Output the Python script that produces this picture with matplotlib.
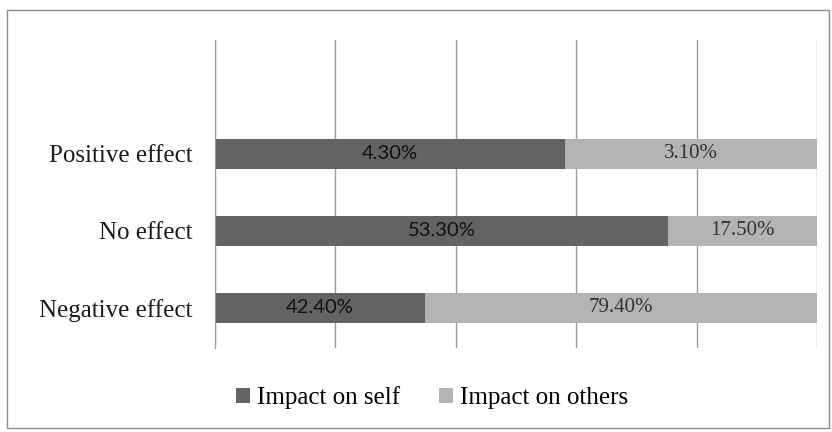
import matplotlib.pyplot as plt
import numpy as np

categories = ['Negative effect', 'No effect', 'Positive effect']
self_vals = [42.4, 53.3, 4.3]
others_vals = [79.4, 17.5, 3.1]
series_names = ['Impact on self', 'Impact on others']

c_self = '#636363'
c_others = '#b3b3b3'
serif = ['Liberation Serif', 'DejaVu Serif']
sans = ['Lato', 'DejaVu Sans']

self_a = np.array(self_vals)
others_a = np.array(others_vals)
tot = self_a + others_a
self_p = self_a / tot * 100
others_p = others_a / tot * 100
y = np.arange(len(categories))

fig = plt.figure(figsize=(8.32, 4.32), dpi=100)
ax = fig.add_axes([215 / 832, 84 / 432, 602 / 832, 308 / 432])

b1 = ax.barh(y, self_p, height=0.39, color=c_self, label=series_names[0], zorder=2)
b2 = ax.barh(y, others_p, left=self_p, height=0.39, color=c_others, label=series_names[1], zorder=2)

for i in range(len(categories)):
    ax.text(self_p[i] / 2, y[i], f'{self_vals[i]:.2f}%', ha='center', va='center',
            fontsize=14.5, family=sans, color='#111111', zorder=3)
    ax.text(self_p[i] + others_p[i] / 2, y[i], f'{others_vals[i]:.2f}%', ha='center', va='center',
            fontsize=15, family=serif, color='#333333', zorder=3)

ax.set_xlim(0, 100)
ax.set_ylim(-0.52, 3.48)
ax.set_xticks(np.arange(0, 101, 20))
ax.set_xticklabels([])
ax.tick_params(axis='x', length=0)
ax.grid(axis='x', color='#9a9a9a', linewidth=1, zorder=0)
ax.set_yticks(y)
ax.set_yticklabels(categories, family=serif, fontsize=18, color='#1a1a1a')
ax.tick_params(axis='y', length=0, pad=16)
for s in ['top', 'right', 'bottom']:
    ax.spines[s].set_visible(False)
ax.spines['left'].set_color('#9a9a9a')

fig.legend(handles=[b1, b2], loc='center', bbox_to_anchor=(432 / 832, 1 - 398 / 432),
           ncol=2, frameon=False, prop={'family': serif, 'size': 18},
           handlelength=0.55, handleheight=0.55, handletextpad=0.3, columnspacing=1.55)

border = plt.Rectangle((7 / 832, 4 / 432), 822 / 832, 418 / 432, transform=fig.transFigure,
                       fill=False, edgecolor='#8c8c8c', linewidth=1)
fig.patches.append(border)

fig.savefig('out.png', dpi=100)
